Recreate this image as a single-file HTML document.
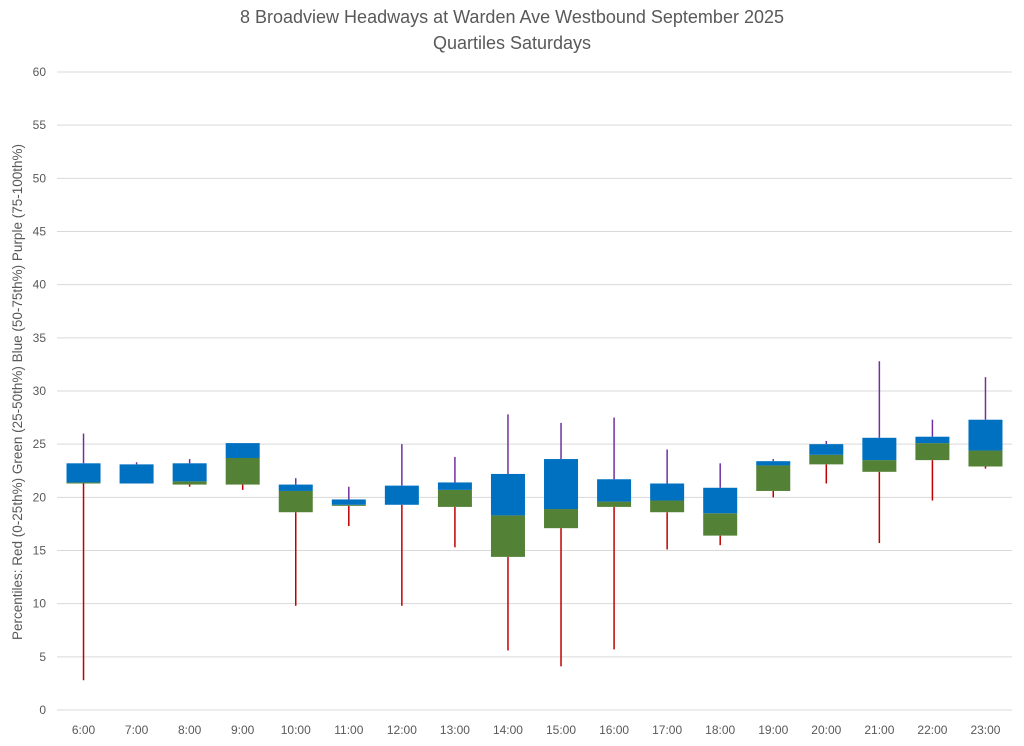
<!DOCTYPE html>
<html><head><meta charset="utf-8">
<style>
body{margin:0;background:#fff;font-family:"Liberation Sans",sans-serif;}
svg text{font-family:"Liberation Sans",sans-serif;fill:#595959;}
</style></head>
<body>
<svg id="chart" width="1024" height="741" viewBox="0 0 1024 741" xmlns="http://www.w3.org/2000/svg">
<text x="512" y="23" font-size="18" text-anchor="middle">8 Broadview Headways at Warden Ave Westbound September 2025</text>
<text x="512" y="49" font-size="18" text-anchor="middle">Quartiles Saturdays</text>
<text transform="translate(22,392) rotate(-90)" font-size="13.5" text-anchor="middle">Percentiles:  Red (0-25th%)  Green (25-50th%)  Blue (50-75th%)  Purple (75-100th%)</text>
<g id="grid"></g><g id="marks"></g><g id="labels"></g>
</svg>
<script>
const categories=["6:00","7:00","8:00","9:00","10:00","11:00","12:00","13:00","14:00","15:00","16:00","17:00","18:00","19:00","20:00","21:00","22:00","23:00"];
const minVals=[2.8,21.3,21.0,20.7,9.8,17.3,9.8,15.3,5.6,4.1,5.7,15.1,15.5,20.0,21.3,15.7,19.7,22.7];
const q1Vals=[21.3,21.3,21.2,21.2,18.6,19.2,19.3,19.1,14.4,17.1,19.1,18.6,16.4,20.6,23.1,22.4,23.5,22.9];
const medVals=[21.4,21.3,21.5,23.7,20.6,19.3,19.3,20.7,18.3,18.9,19.6,19.7,18.5,23.0,24.0,23.5,25.1,24.4];
const q3Vals=[23.2,23.1,23.2,25.1,21.2,19.8,21.1,21.4,22.2,23.6,21.7,21.3,20.9,23.4,25.0,25.6,25.7,27.3];
const maxVals=[26.0,23.3,23.6,25.1,21.8,21.0,25.0,23.8,27.8,27.0,27.5,24.5,23.2,23.6,25.3,32.8,27.3,31.3];
const yTicks=[0,5,10,15,20,25,30,35,40,45,50,55,60];

const NS="http://www.w3.org/2000/svg";
const plotLeft=57,plotRight=1012,plotTop=72,plotBottom=710,yMax=60;
const yScale=v=>plotBottom-(v/yMax)*(plotBottom-plotTop);
const step=(plotRight-plotLeft)/categories.length;
const xScale=i=>plotLeft+step*(i+0.5);
function mk(tag,attrs,parent){const e=document.createElementNS(NS,tag);for(const k in attrs)e.setAttribute(k,attrs[k]);parent.appendChild(e);return e;}
const grid=document.getElementById('grid'),marks=document.getElementById('marks'),labels=document.getElementById('labels');
yTicks.forEach(t=>{
  const l=mk('line',{x1:plotLeft,x2:plotRight,y1:yScale(t),y2:yScale(t),stroke:'#d9d9d9','stroke-width':1},grid);
  
  
  const tx=mk('text',{x:46,y:yScale(t)+4,'font-size':12,'text-anchor':'end'},labels);
  tx.textContent=t;
  
  
});
const bw=34;
categories.forEach((c,i)=>{
  const cx=xScale(i);
  const g=mk('g',{},marks);
  
  
  mk('line',{x1:cx,x2:cx,y1:yScale(minVals[i]),y2:yScale(q1Vals[i]),stroke:'#c00000','stroke-width':1.5},g);
  mk('line',{x1:cx,x2:cx,y1:yScale(q3Vals[i]),y2:yScale(maxVals[i]),stroke:'#7030a0','stroke-width':1.5},g);
  mk('rect',{x:cx-bw/2,y:yScale(medVals[i]),width:bw,height:Math.max(0,yScale(q1Vals[i])-yScale(medVals[i])),fill:'#538135'},g);
  mk('rect',{x:cx-bw/2,y:yScale(q3Vals[i]),width:bw,height:Math.max(0,yScale(medVals[i])-yScale(q3Vals[i])),fill:'#0070c0'},g);
  const tx=mk('text',{x:cx,y:734,'font-size':12,'text-anchor':'middle'},labels);
  tx.textContent=c;
  
  
});
</script>
</body></html>
